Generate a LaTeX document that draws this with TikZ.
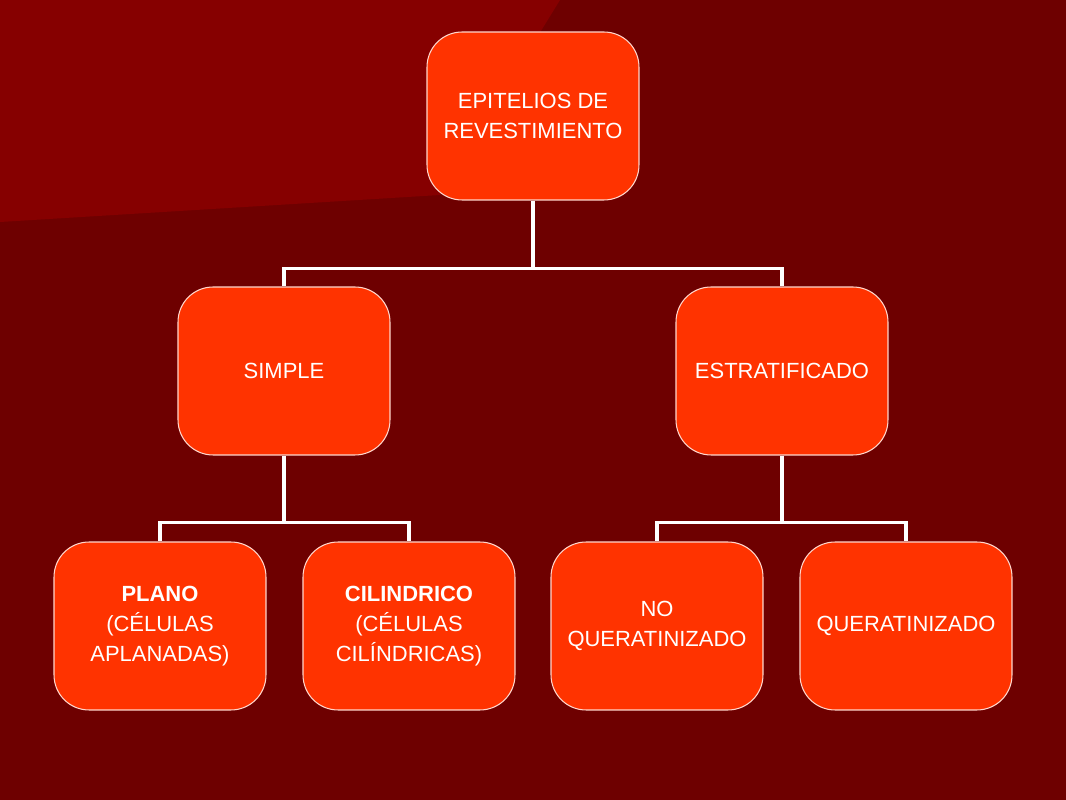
\documentclass[tikz,border=0pt]{standalone}
\usepackage{fontspec}
\setmainfont{Liberation Sans}
\definecolor{bgdark}{HTML}{6E0000}
\definecolor{bglight}{HTML}{860000}
\definecolor{boxfill}{HTML}{FF3300}
\tikzset{
  box/.style={draw=white!80!boxfill, line width=0.6pt, fill=boxfill, rounded corners=0.7cm,
    minimum width=4.24cm, minimum height=3.36cm, text=white, align=center,
    font=\fontsize{12.5}{17}\selectfont},
  link/.style={draw=white, line width=2.2pt}
}
\begin{document}
\begin{tikzpicture}[x=0.02cm,y=-0.02cm]
  \fill[bgdark] (0,0) rectangle (1066,800);
  \fill[bglight] (0,0) -- (560,0) -- (440,195) -- (0,222) -- cycle;
  \useasboundingbox (0,0) rectangle (1066,800);

  \node[box] (root) at (533,116) {EPITELIOS DE\\REVESTIMIENTO};
  \node[box] (simple) at (284,371) {SIMPLE};
  \node[box] (estrat) at (782,371) {ESTRATIFICADO};
  \node[box] (plano) at (160,626) {\textbf{PLANO}\\(CÉLULAS\\APLANADAS)};
  \node[box] (cilin) at (409,626) {\textbf{CILINDRICO}\\(CÉLULAS\\CILÍNDRICAS)};
  \node[box] (noquer) at (657,626) {NO\\QUERATINIZADO};
  \node[box] (quer) at (906,626) {QUERATINIZADO};

  \draw[link] (root.south) -- ++(0,68) -| (simple.north);
  \draw[link] (root.south) ++(0,68) -| (estrat.north);
  \draw[link] (simple.south) -- ++(0,67) -| (plano.north);
  \draw[link] (simple.south) ++(0,67) -| (cilin.north);
  \draw[link] (estrat.south) -- ++(0,67) -| (noquer.north);
  \draw[link] (estrat.south) ++(0,67) -| (quer.north);
\end{tikzpicture}
\end{document}
